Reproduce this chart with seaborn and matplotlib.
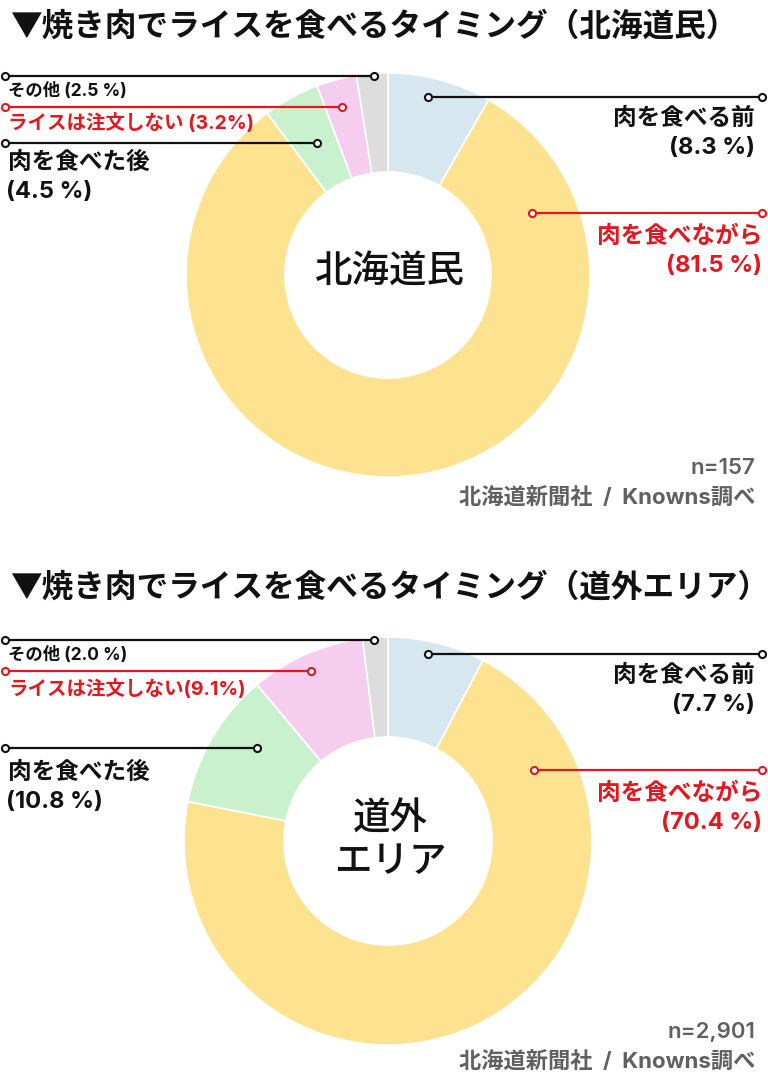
import matplotlib
matplotlib.use("Agg")
import matplotlib.pyplot as plt
import seaborn as sns

# ---- data ----
categories = ["肉を食べる前", "肉を食べながら", "肉を食べた後", "ライスは注文しない", "その他"]
hokkaido_values = [8.3, 81.5, 4.5, 3.2, 2.5]
outside_values = [7.7, 70.4, 10.8, 9.1, 2.0]
hokkaido_n = "n=157"
outside_n = "n=2,901"
titles = ["▼焼き肉でライスを食べるタイミング（北海道民）", "▼焼き肉でライスを食べるタイミング（道外エリア）"]
centers = ["北海道民", "道外\nエリア"]
source = "北海道新聞社  /  Knowns調べ"
colors = ["#d7e7ef", "#fde28f", "#c9f1cd", "#f5cdee", "#dddddd"]

sns.set_theme(style="white")
plt.rcParams['font.family'] = ['Noto Sans CJK JP', 'DejaVu Sans']
MIX = ['Inter', 'Noto Sans CJK JP', 'DejaVu Sans']

W, H = 768, 1086
fig = plt.figure(figsize=(W / 100, H / 100), dpi=100)
fig.patch.set_facecolor("white")

RED = "#e5161e"
BLK = "#111111"
GRY = "#606060"


def donut(cx, cy, r, values):
    ax = fig.add_axes([(cx - r) / W, (H - cy - r) / H, 2 * r / W, 2 * r / H])
    ax.pie(values, colors=colors, startangle=90, counterclock=False, radius=1,
           wedgeprops=dict(width=0.49, edgecolor="white", linewidth=1.2))
    ax.set_xlim(-1, 1)
    ax.set_ylim(-1, 1)
    ax.set_aspect("equal")
    ax.axis("off")
    return ax


donut(388, 275, 202, hokkaido_values)
donut(388, 841, 204, outside_values)

ov = fig.add_axes([0, 0, 1, 1], zorder=5)
ov.set_xlim(0, W)
ov.set_ylim(H, 0)
ov.axis("off")
ov.patch.set_alpha(0)


def leader(x0, x1, y, color):
    ov.plot([x0, x1], [y, y], color=color, lw=1.6, solid_capstyle="butt", zorder=6)
    ov.scatter([x0, x1], [y, y], s=26, facecolor="white", edgecolor=color, linewidth=1.5, zorder=7)


def pct(v):
    return f"{v:.1f}"


def block(values, yoff, n_text, title, center, label_y, rice_spacing, title_size):
    ov.text(10, 27 + yoff, title, fontsize=title_size, fontweight="bold", color=BLK, va="center", ha="left")
    # その他
    leader(5, 374, label_y["other_line"], BLK)
    ov.text(8, label_y["other_text"], f"その他 ({pct(values[4])} %)", fontsize=12.5, fontweight="bold",
            color=BLK, va="center", family=MIX)
    # ライス
    leader(5, label_y["rice_x"], label_y["rice_line"], RED)
    ov.text(8, label_y["rice_text"], f"ライスは注文しない{rice_spacing}({pct(values[3])}%)", fontsize=14,
            fontweight="bold", color=RED, va="center", family=MIX)
    # after
    leader(5, label_y["after_x"], label_y["after_line"], BLK)
    ov.text(8, label_y["after_text"], categories[2], fontsize=17, fontweight="bold", color=BLK, va="center")
    ov.text(6, label_y["after_text"] + 30, f"({pct(values[2])} %)", fontsize=17, fontweight="bold",
            color=BLK, va="center", family=MIX)
    # before
    leader(428, 762, label_y["before_line"], BLK)
    ov.text(755, label_y["before_line"] + 21, categories[0], fontsize=17, fontweight="bold", color=BLK,
            va="center", ha="right")
    ov.text(755, label_y["before_line"] + 51, f"({pct(values[0])} %)", fontsize=17, fontweight="bold",
            color=BLK, va="center", ha="right", family=MIX)
    # during
    leader(label_y["during_x"], 762, label_y["during_line"], RED)
    ov.text(762, label_y["during_line"] + 23, categories[1], fontsize=17, fontweight="bold", color=RED,
            va="center", ha="right")
    ov.text(762, label_y["during_line"] + 53, f"({pct(values[1])} %)", fontsize=17, fontweight="bold",
            color=RED, va="center", ha="right", family=MIX)
    # center
    ov.text(390, label_y["center"], center, fontsize=27, color=BLK, va="center", ha="center",
            linespacing=1.15, fontweight="medium")
    # n and source
    ov.text(755, label_y["n"], n_text, fontsize=16, fontweight="semibold", color=GRY, va="center",
            ha="right", family=MIX)
    ov.text(755, label_y["n"] + 29, source, fontsize=16, fontweight="bold", color=GRY, va="center",
            ha="right", family=MIX)


block(hokkaido_values, 0, hokkaido_n, titles[0], centers[0],
      dict(other_line=76, other_text=91, rice_line=107, rice_text=123, rice_x=342,
           after_line=143, after_text=162, after_x=317, before_line=97,
           during_line=213, during_x=532, center=272, n=468), " ", 22.8)
block(outside_values, 561, outside_n, titles[1], centers[1],
      dict(other_line=640, other_text=656, rice_line=671, rice_text=689, rice_x=311,
           after_line=748, after_text=772, after_x=257, before_line=654,
           during_line=770, during_x=534, center=840, n=1032), "", 22.8)

fig.savefig("out.png", dpi=100, facecolor="white")
